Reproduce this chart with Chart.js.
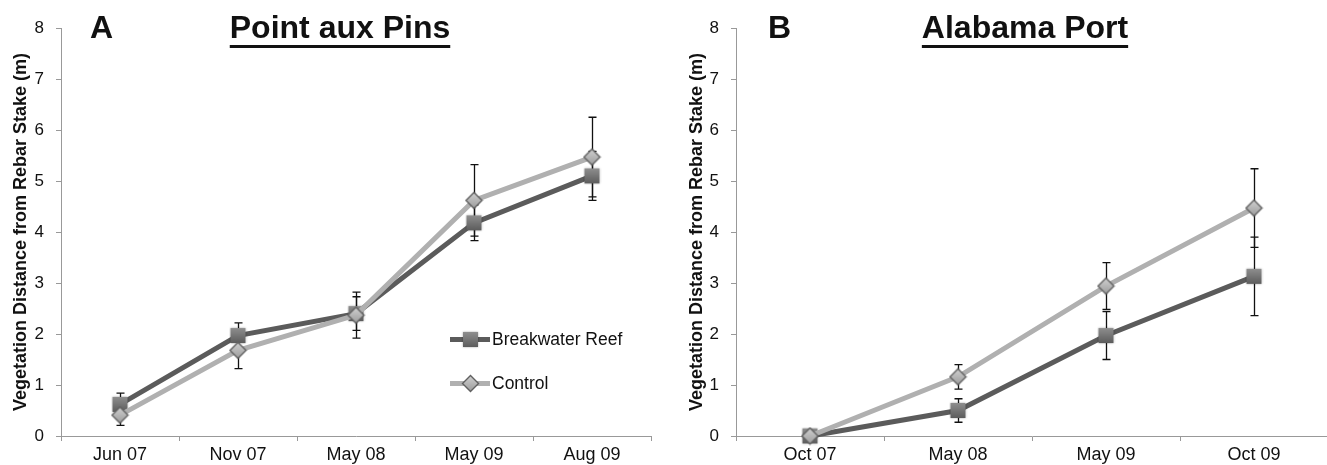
<!DOCTYPE html>
<html>
<head>
<meta charset="utf-8">
<script src="https://cdn.jsdelivr.net/npm/chart.js@4.4.1/dist/chart.umd.min.js"></script>
<style>
    html, body { margin: 0; padding: 0; background: #fff; overflow: hidden; }
    #wrap { position: relative; width: 1327px; height: 465px; overflow: hidden; font-family: "Liberation Sans", Arial, sans-serif; color: #111; }
    .panel { position: absolute; top: 0; height: 465px; }
    .letter, .title { position: absolute; top: 11px; font-size: 32px; line-height: 32px; font-weight: bold; white-space: nowrap; }
    .title { text-decoration: underline; text-decoration-thickness: 3px; text-underline-offset: 7px; transform: translateX(-50%); }
    .legend { position: absolute; left: 450px; top: 327px; font-size: 17.5px; white-space: nowrap; }
    .legend-row { position: relative; width: 200px; height: 44px; line-height: 24px; }
    .legend-line { position: absolute; left: 0; top: 10px; width: 40px; height: 5px; }
    .legend-row canvas { position: absolute; left: 11px; top: 3px; }
    .legend-text { position: absolute; left: 42px; top: 0; }
</style>
</head>
<body>
<div id="wrap">
    <div class="panel" style="left:0; width:660px;"><canvas id="chart-a"></canvas></div>
    <div class="panel" style="left:660px; width:677px;"><canvas id="chart-b"></canvas></div>

    <div class="letter" style="left:90px;">A</div>
    <div class="title" style="left:340px;">Point aux Pins</div>
    <div class="letter" style="left:768px;">B</div>
    <div class="title" style="left:1025px;">Alabama Port</div>

    <div class="legend">
        <div class="legend-row" id="leg-reef">
            <div class="legend-line" style="background:#5b5b5b;"></div>
            <span class="legend-text">Breakwater Reef</span>
        </div>
        <div class="legend-row" id="leg-control">
            <div class="legend-line" style="background:#b0b0b0;"></div>
            <span class="legend-text">Control</span>
        </div>
    </div>
</div>

<script>
// Panel A - Point aux Pins
const datesA = ['Jun 07', 'Nov 07', 'May 08', 'May 09', 'Aug 09'];
const reefA = [0.62, 1.97, 2.40, 4.18, 5.10];
const reefErrA = [0.22, 0.25, 0.33, 0.35, 0.48];
const controlA = [0.41, 1.68, 2.37, 4.62, 5.47];
const controlErrA = [0.20, 0.36, 0.45, 0.70, 0.78];

// Panel B - Alabama Port
const datesB = ['Oct 07', 'May 08', 'May 09', 'Oct 09'];
const reefB = [0, 0.50, 1.97, 3.13];
const reefErrB = [0, 0.23, 0.47, 0.77];
const controlB = [0, 1.16, 2.94, 4.47];
const controlErrB = [0, 0.24, 0.46, 0.77];

const yMin = 0;
const yMax = 8;
const yTitle = 'Vegetation Distance from Rebar Stake (m)';
const FONT = '"Liberation Sans", Arial, sans-serif';

function makeSquare() {
    const c = document.createElement('canvas');
    c.width = 19; c.height = 19;
    const ctx = c.getContext('2d');
    ctx.shadowColor = 'rgba(0,0,0,0.35)';
    ctx.shadowBlur = 2;
    const g = ctx.createLinearGradient(0, 2, 0, 17);
    g.addColorStop(0, '#8e8e8e');
    g.addColorStop(1, '#5c5c5c');
    ctx.fillStyle = g;
    ctx.fillRect(2, 2, 15, 15);
    return c;
}

function makeDiamond() {
    const c = document.createElement('canvas');
    c.width = 19; c.height = 19;
    const ctx = c.getContext('2d');
    const g = ctx.createLinearGradient(0, 1, 0, 18);
    g.addColorStop(0, '#d2d2d2');
    g.addColorStop(1, '#9a9a9a');
    ctx.beginPath();
    ctx.moveTo(9.5, 1.5);
    ctx.lineTo(17.5, 9.5);
    ctx.lineTo(9.5, 17.5);
    ctx.lineTo(1.5, 9.5);
    ctx.closePath();
    ctx.fillStyle = g;
    ctx.fill();
    ctx.lineWidth = 1.4;
    ctx.strokeStyle = '#606060';
    ctx.stroke();
    return c;
}

document.getElementById('leg-reef').appendChild(makeSquare());
document.getElementById('leg-control').appendChild(makeDiamond());

// draws +/- error bars for each dataset (errors kept on dataset.errors)
const errorBars = {
    id: 'errorBars',
    beforeDatasetsDraw(chart) {
        const ctx = chart.ctx;
        const yScale = chart.scales.y;
        ctx.save();
        ctx.strokeStyle = '#111';
        ctx.lineWidth = 1.3;
        chart.data.datasets.forEach((ds, di) => {
            const meta = chart.getDatasetMeta(di);
            meta.data.forEach((pt, i) => {
                const e = ds.errors[i];
                if (!e) return;
                const x = Math.round(pt.x) + 0.5;
                const top = yScale.getPixelForValue(ds.data[i] + e);
                const bot = yScale.getPixelForValue(ds.data[i] - e);
                ctx.beginPath();
                ctx.moveTo(x, top); ctx.lineTo(x, bot);
                ctx.moveTo(x - 4, top); ctx.lineTo(x + 4, top);
                ctx.moveTo(x - 4, bot); ctx.lineTo(x + 4, bot);
                ctx.stroke();
            });
        });
        ctx.restore();
    }
};

function buildChart(id, labels, reef, reefErr, control, controlErr, axisWidth, titlePad, padRight) {
    return new Chart(document.getElementById(id), {
        type: 'line',
        data: {
            labels: labels,
            datasets: [{
                label: 'Breakwater Reef',
                data: reef,
                errors: reefErr,
                borderColor: '#5b5b5b',
                borderWidth: 5,
                pointStyle: makeSquare(),
                order: 2,
                clip: false
            }, {
                label: 'Control',
                data: control,
                errors: controlErr,
                borderColor: '#b0b0b0',
                borderWidth: 5,
                pointStyle: makeDiamond(),
                order: 1,
                clip: false
            }]
        },
        options: {
            responsive: true,
            maintainAspectRatio: false,
            animation: false,
            events: [],
            layout: { padding: { top: 28, right: padRight, bottom: 0, left: 0 } },
            plugins: { legend: { display: false }, tooltip: { enabled: false } },
            scales: {
                x: {
                    offset: true,
                    grid: { offset: true, drawOnChartArea: false, tickLength: 5, color: '#999' },
                    border: { color: '#999' },
                    ticks: { color: '#111', font: { family: FONT, size: 18 }, padding: 3, maxRotation: 0, autoSkip: false },
                    afterFit: s => { s.height = 29; }
                },
                y: {
                    min: yMin,
                    max: yMax,
                    grid: { drawOnChartArea: false, tickLength: 5, color: '#999' },
                    border: { color: '#999' },
                    ticks: { stepSize: 1, color: '#111', font: { family: FONT, size: 17 }, padding: 12 },
                    title: {
                        display: true,
                        text: yTitle,
                        color: '#111',
                        font: { family: FONT, size: 18, weight: 'bold' },
                        padding: { top: titlePad, bottom: 0 }
                    },
                    afterFit: s => { s.width = axisWidth; }
                }
            }
        },
        plugins: [errorBars]
    });
}

buildChart('chart-a', datesA, reefA, reefErrA, controlA, controlErrA, 61, 10, 8);
buildChart('chart-b', datesB, reefB, reefErrB, controlB, controlErrB, 76, 26, 0);
</script>
</body>
</html>
